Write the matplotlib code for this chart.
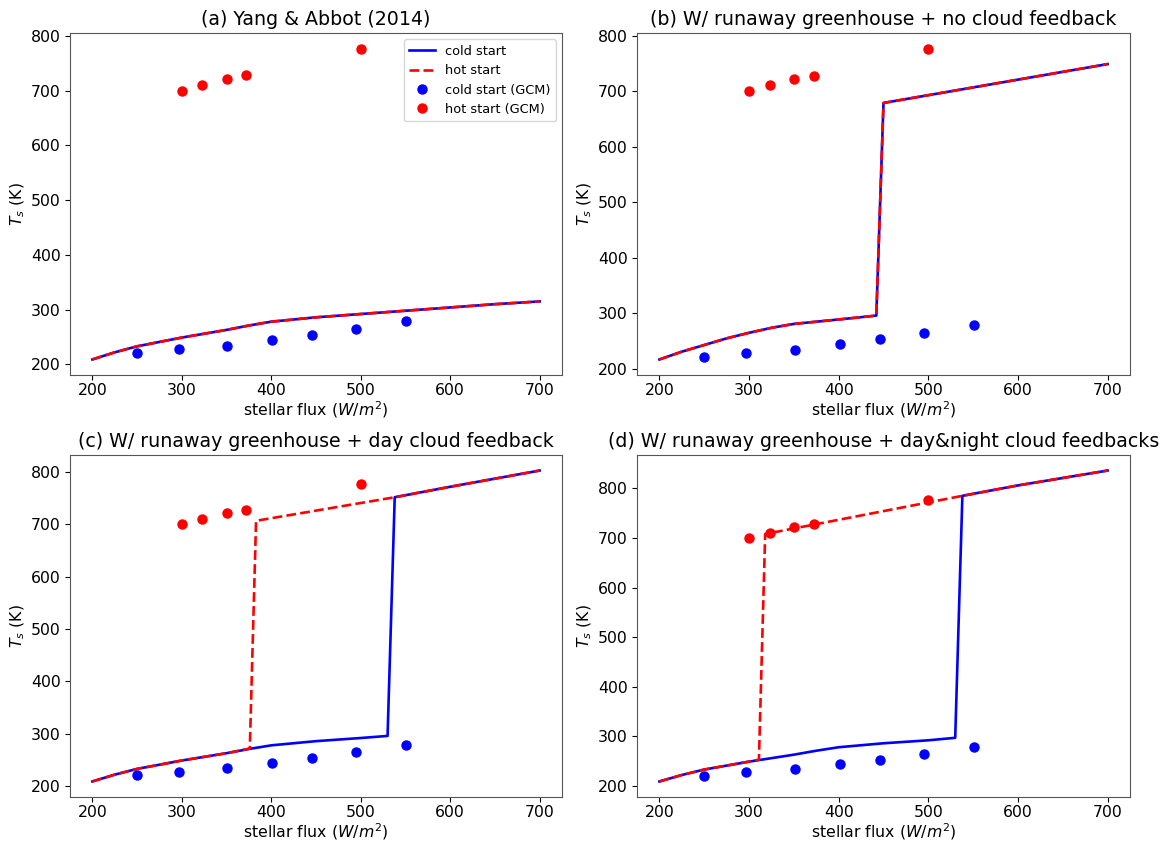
import matplotlib
matplotlib.use("Agg")
import matplotlib.pyplot as plt

# GCM points (same in all panels)
gcm_cold_x = [250, 297, 351, 401, 446, 495, 551]
gcm_cold_y = [221, 228, 234, 244, 253, 265, 279]
gcm_hot_x = [300, 323, 350, 372, 500]
gcm_hot_y = [700, 711, 722, 728, 777]

# Panel (a)
a_cold_x = [200, 225, 250, 275, 300, 325, 350, 375, 400, 425, 450, 500, 550, 600, 650, 700]
a_cold_y = [209, 222, 233, 241, 249, 256, 263, 271, 278, 282, 286, 292, 298, 304, 310, 315]
a_hot_x = a_cold_x
a_hot_y = a_cold_y

# Panel (b)
b_cold_x = [200, 225, 250, 275, 300, 325, 350, 375, 400, 442, 450, 500, 600, 700]
b_cold_y = [217, 231, 243, 255, 265, 274, 281, 285, 289, 296, 679, 693, 721, 749]
b_hot_x = b_cold_x
b_hot_y = b_cold_y

# Panel (c)
c_cold_x = [200, 225, 250, 275, 300, 325, 350, 375, 400, 425, 450, 500, 530, 538, 600, 700]
c_cold_y = [209, 222, 233, 241, 249, 256, 263, 271, 278, 282, 286, 292, 296, 752, 772, 803]
c_hot_x = [200, 225, 250, 275, 300, 325, 350, 376, 383, 538, 600, 700]
c_hot_y = [209, 222, 233, 241, 249, 256, 263, 272, 707, 752, 772, 803]

# Panel (d)
d_cold_x = [200, 225, 250, 275, 300, 325, 350, 375, 400, 425, 450, 500, 530, 538, 600, 700]
d_cold_y = [209, 222, 233, 241, 249, 256, 263, 271, 278, 282, 286, 292, 297, 785, 806, 836]
d_hot_x = [200, 225, 250, 275, 300, 311, 318, 538, 600, 700]
d_hot_y = [209, 222, 233, 241, 249, 253, 708, 785, 806, 836]

titles = ["(a) Yang & Abbot (2014)",
          "(b) W/ runaway greenhouse + no cloud feedback",
          "(c) W/ runaway greenhouse + day cloud feedback",
          "(d) W/ runaway greenhouse + day&night cloud feedbacks"]

panels = [(a_cold_x, a_cold_y, a_hot_x, a_hot_y),
          (b_cold_x, b_cold_y, b_hot_x, b_hot_y),
          (c_cold_x, c_cold_y, c_hot_x, c_hot_y),
          (d_cold_x, d_cold_y, d_hot_x, d_hot_y)]

W, H = 1166, 842
fig = plt.figure(figsize=(W / 100, H / 100), dpi=100)

positions = [
    (70, 33, 562, 375),
    (637, 33, 1130, 375),
    (70, 455, 562, 797),
    (637, 455, 1130, 797),
]

for i, ((cx, cy, hx, hy), (l, t, r, b)) in enumerate(zip(panels, positions)):
    ax = fig.add_axes([l / W, 1 - b / H, (r - l) / W, (b - t) / H])
    ax.plot(cx, cy, color="blue", lw=1.9, label="cold start")
    ax.plot(hx, hy, color="red", lw=1.9, ls="--", label="hot start")
    ax.plot(gcm_cold_x, gcm_cold_y, "o", color="blue", ms=6.5, label="cold start (GCM)")
    ax.plot(gcm_hot_x, gcm_hot_y, "o", color="red", ms=6.5, label="hot start (GCM)")
    ax.set_title(titles[i], fontsize=13.7)
    ax.set_xlabel("stellar flux ($W/m^2$)", fontsize=11.3, labelpad=0.5)
    ax.set_ylabel("$T_s$ (K)", fontsize=11.3, labelpad=3)
    ax.set_xticks([200, 300, 400, 500, 600, 700])
    ax.tick_params(labelsize=11.3, pad=3)
    ax.tick_params(axis="x", pad=2.5)
    for sp in ax.spines.values():
        sp.set_color("#555555")
    if i == 0:
        ax.legend(loc="upper right", fontsize=9.3)

fig.savefig("out.png", dpi=100)
